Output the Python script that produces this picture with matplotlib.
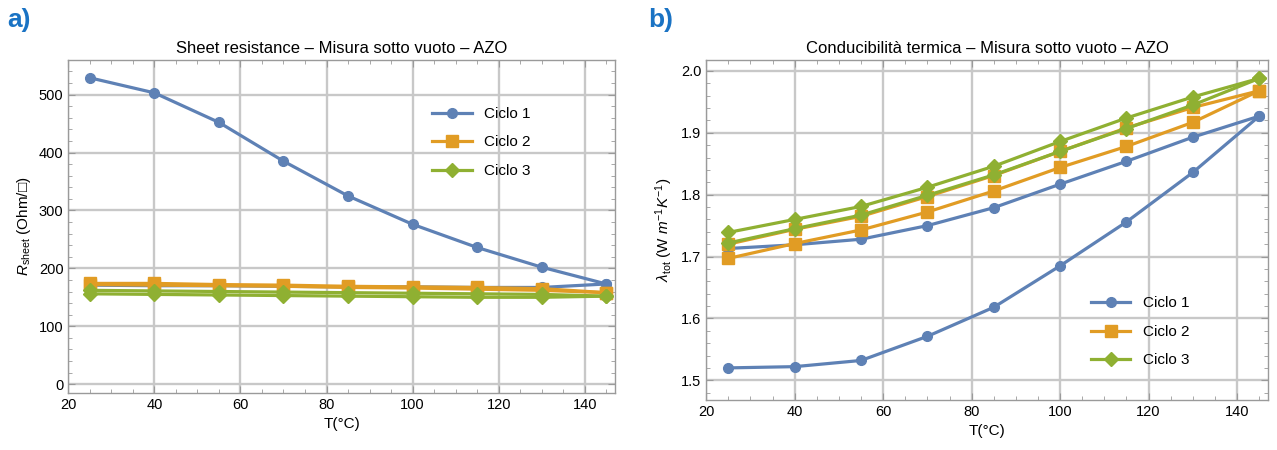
import matplotlib.pyplot as plt
from matplotlib.ticker import MultipleLocator

plt.rcParams['font.family'] = ['Liberation Sans', 'DejaVu Sans']
plt.rcParams['mathtext.fontset'] = 'custom'
plt.rcParams['mathtext.rm'] = 'Liberation Sans'
plt.rcParams['mathtext.it'] = 'Liberation Sans:italic'

# temperature steps (°C)
T = [25, 40, 55, 70, 85, 100, 115, 130, 145]

# sheet resistance (Ohm/sq): heating and cooling branch of each cycle
rs_c1_up = [529, 503, 452, 385, 325, 276, 236, 202, 173]
rs_c1_down = [171, 170, 170, 169, 168, 168, 167, 167, 173]
rs_c2_up = [174, 174, 172, 171, 169, 168, 167, 165, 158]
rs_c2_down = [172, 171, 170, 169, 167, 166, 164, 162, 158]
rs_c3_up = [162, 161, 160, 159, 158, 157, 156, 155, 152]
rs_c3_down = [156, 155, 154, 153, 152, 151, 150, 150, 152]

# thermal conductivity (W m^-1 K^-1)
k_c1_up = [1.520, 1.522, 1.532, 1.571, 1.618, 1.685, 1.756, 1.836, 1.927]
k_c1_down = [1.713, 1.719, 1.728, 1.750, 1.779, 1.817, 1.854, 1.893, 1.927]
k_c2_up = [1.697, 1.721, 1.743, 1.772, 1.806, 1.844, 1.878, 1.917, 1.968]
k_c2_down = [1.720, 1.744, 1.765, 1.797, 1.831, 1.870, 1.908, 1.941, 1.968]
k_c3_up = [1.739, 1.760, 1.781, 1.812, 1.846, 1.886, 1.924, 1.958, 1.988]
k_c3_down = [1.722, 1.745, 1.767, 1.799, 1.832, 1.870, 1.907, 1.945, 1.988]

labels = ['Ciclo 1', 'Ciclo 2', 'Ciclo 3']
colors = ['#5E81B5', '#E19C24', '#8FB032']
markers = ['o', 's', 'D']
msizes = [7, 8, 7.5]


def style_axes(ax):
    for s in ax.spines.values():
        s.set_color('#9a9a9a')
        s.set_linewidth(1.0)
    ax.grid(True, which='major', color='#c8c8c8', linewidth=1.7)
    ax.set_axisbelow(True)
    ax.tick_params(which='both', direction='in', top=True, right=True,
                   color='#9a9a9a', labelsize=10.5)
    ax.tick_params(which='major', length=5)
    ax.tick_params(which='minor', length=3)
    ax.xaxis.set_major_locator(MultipleLocator(20))
    ax.xaxis.set_minor_locator(MultipleLocator(5))
    ax.set_xlim(20, 147)
    ax.set_xlabel('T(°C)', fontsize=11)


fig = plt.figure(figsize=(12.77, 4.5), dpi=100)
ax1 = fig.add_axes([0.0535, 0.127, 0.428, 0.74])
ax2 = fig.add_axes([0.553, 0.111, 0.44, 0.756])

# a) sheet resistance
series1 = [(rs_c1_up, rs_c1_down), (rs_c2_up, rs_c2_down), (rs_c3_up, rs_c3_down)]
for (up, down), lab, c, m, ms in zip(series1, labels, colors, markers, msizes):
    ax1.plot(T, up, color=c, marker=m, ms=ms, lw=2.3, label=lab)
    ax1.plot(T, down, color=c, marker=m, ms=ms, lw=2.3)
style_axes(ax1)
ax1.set_ylim(-15, 560)
ax1.yaxis.set_major_locator(MultipleLocator(100))
ax1.yaxis.set_minor_locator(MultipleLocator(20))
ax1.set_title('Sheet resistance – Misura sotto vuoto – AZO', fontsize=12, pad=5)
ax1.set_ylabel('$R_{\\rm sheet}$ (Ohm/□)', fontsize=11)
ax1.legend(loc='upper left', bbox_to_anchor=(0.64, 0.9), frameon=False,
           fontsize=11, handlelength=2.6, labelspacing=0.95)

# b) thermal conductivity
series2 = [(k_c1_up, k_c1_down), (k_c2_up, k_c2_down), (k_c3_up, k_c3_down)]
for (up, down), lab, c, m, ms in zip(series2, labels, colors, markers, msizes):
    ax2.plot(T, up, color=c, marker=m, ms=ms, lw=2.3, label=lab)
    ax2.plot(T, down, color=c, marker=m, ms=ms, lw=2.3)
style_axes(ax2)
ax2.set_ylim(1.468, 2.018)
ax2.yaxis.set_major_locator(MultipleLocator(0.1))
ax2.yaxis.set_minor_locator(MultipleLocator(0.02))
ax2.yaxis.set_major_formatter(plt.FormatStrFormatter('%.1f'))
ax2.set_title('Conducibilità termica – Misura sotto vuoto – AZO', fontsize=12, pad=5)
ax2.set_ylabel('$\\lambda_{\\rm tot}$ (W $m^{-1}K^{-1}$)', fontsize=11)
ax2.legend(loc='upper left', bbox_to_anchor=(0.66, 0.345), frameon=False,
           fontsize=11, handlelength=2.6, labelspacing=0.95)

fig.text(0.006, 0.955, 'a)', fontsize=19, fontweight='bold', color='#1A73C4', va='center')
fig.text(0.508, 0.955, 'b)', fontsize=19, fontweight='bold', color='#1A73C4', va='center')

fig.savefig('out.png', dpi=100)
